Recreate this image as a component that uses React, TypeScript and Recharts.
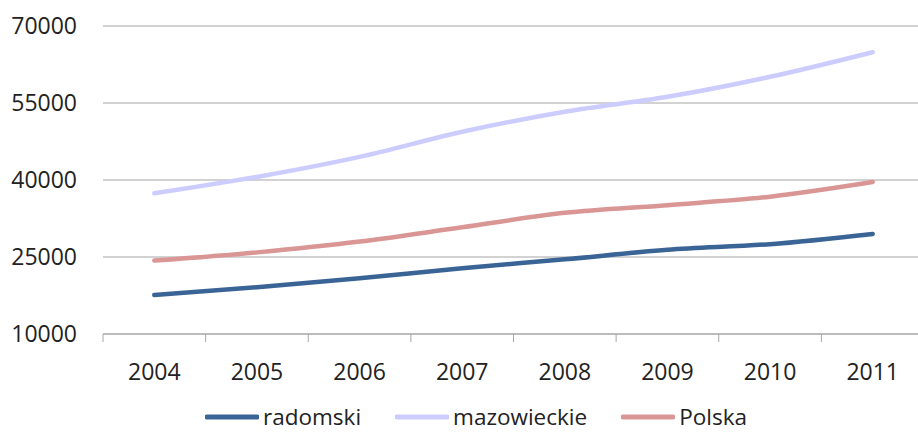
import { LineChart, Line, XAxis, YAxis, CartesianGrid, Legend } from 'recharts';

const years = ['2004', '2005', '2006', '2007', '2008', '2009', '2010', '2011'];
const radomski = [17600, 19100, 20850, 22800, 24550, 26400, 27500, 29500];
const mazowieckie = [37400, 40600, 44500, 49400, 53300, 56200, 60100, 64900];
const polska = [24300, 25900, 28000, 30800, 33600, 35100, 36750, 39600];
const yTicks = [10000, 25000, 40000, 55000, 70000];

const series = [
  { key: 'radomski', name: 'radomski', color: '#3B6496' },
  { key: 'mazowieckie', name: 'mazowieckie', color: '#CCCCFF' },
  { key: 'polska', name: 'Polska', color: '#D99694' },
];

const data = years.map((year, i) => ({
  year,
  radomski: radomski[i],
  mazowieckie: mazowieckie[i],
  polska: polska[i],
}));

const FONT = '"Open Sans", sans-serif';
const TEXT = '#222222';

// category tick: label at the centre, tick mark on the left boundary (Excel style)
const YearTick = (props: any) => {
  const { x, y, payload } = props;
  const half = payload && payload.offset ? payload.offset : 51.3;
  return (
    <g>
      <line x1={x - half} y1={y} x2={x - half} y2={y + 8} stroke="#A6A6A6" strokeWidth={1} />
      <text x={x} y={y + 37} textAnchor="middle" dominantBaseline="central" fill={TEXT} fontSize={23} fontFamily={FONT}>
        {payload.value}
      </text>
    </g>
  );
};

const LegendContent = () => (
  <div style={{ display: 'flex', justifyContent: 'center', alignItems: 'center', paddingLeft: 28 }}>
    {series.map((s, i) => (
      <div key={s.key} style={{ display: 'flex', alignItems: 'center', marginLeft: i === 0 ? 0 : 34 }}>
        <svg width={54} height={8}>
          <line x1={2} y1={4} x2={52} y2={4} stroke={s.color} strokeWidth={5} strokeLinecap="round" />
        </svg>
        <span style={{ marginLeft: 4, fontFamily: FONT, fontSize: 22.5, color: TEXT, lineHeight: '26px' }}>{s.name}</span>
      </div>
    ))}
  </div>
);

export default function App() {
  return (
    <div style={{ position: 'absolute', left: 0, top: 0, width: 918, height: 435, overflow: 'hidden', background: '#fff' }}>
      <LineChart width={940} height={435} data={data} margin={{ top: 26, right: 16, left: 0, bottom: 0 }}>
        <CartesianGrid vertical={false} stroke="#A6A6A6" strokeWidth={1.2} />
        <XAxis
          dataKey="year"
          scale="band"
          axisLine={{ stroke: '#A6A6A6', strokeWidth: 1.2 }}
          tickLine={false}
          tickSize={0}
          tickMargin={0}
          tick={<YearTick />}
          height={70}
          interval={0}
        />
        <YAxis
          domain={[10000, 70000]}
          ticks={yTicks}
          axisLine={false}
          tickLine={false}
          tickSize={0}
          tickMargin={26}
          width={103}
          tick={{ fill: TEXT, fontSize: 23, fontFamily: FONT }}
        />
        <Legend verticalAlign="bottom" height={31} content={<LegendContent />} />
        {series.map((s) => (
          <Line
            key={s.key}
            type="monotone"
            dataKey={s.key}
            name={s.name}
            stroke={s.color}
            strokeWidth={4.5}
            strokeLinecap="round"
            dot={false}
            activeDot={false}
            isAnimationActive={false}
          />
        ))}
      </LineChart>
    </div>
  );
}
